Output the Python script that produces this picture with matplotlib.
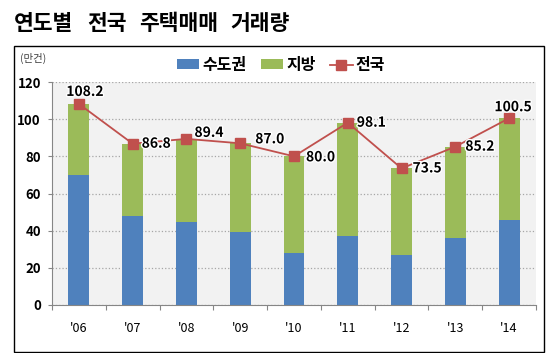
import matplotlib
matplotlib.use('Agg')
import matplotlib.pyplot as plt
from matplotlib.patches import Rectangle, Patch
from matplotlib.lines import Line2D
import matplotlib.patheffects as pe
import numpy as np

plt.rcParams['font.family'] = ['Noto Sans CJK KR', 'DejaVu Sans']

# ── DATA ─────────────────────────────────────────────────────────────────────
years = ["'06", "'07", "'08", "'09", "'10", "'11", "'12", "'13", "'14"]
capital = [69.7, 48.0, 44.8, 39.5, 28.1, 37.0, 27.1, 35.9, 45.8]   # 수도권
total = [108.2, 86.8, 89.4, 87.0, 80.0, 98.1, 73.5, 85.2, 100.5]   # 전국
regional = [round(t - c, 1) for t, c in zip(total, capital)]        # 지방

C_BLUE, C_GREEN, C_RED = '#4F81BD', '#9BBB59', '#C0504D'
C_GRID, C_AXIS = '#A6A6A6', '#868686'

W, H = 552, 353
fig = plt.figure(figsize=(W / 100, H / 100), dpi=100, facecolor='white')

def fx(px):
    return px / W

def fy(py):
    return 1 - py / H

# outer chart box
fig.patches.append(Rectangle((fx(14), fy(352)), fx(544) - fx(14), fy(46) - fy(352),
                             transform=fig.transFigure, fill=False,
                             edgecolor='black', linewidth=1.0, zorder=0))

# title (words centred separately: the original has wide word gaps)
for word, px in [('연도별', 43.5), ('전국', 106.5), ('주택매매', 179), ('거래량', 260)]:
    fig.text(fx(px), fy(23), word, fontsize=15.5, fontweight='bold',
             ha='center', va='center', color='black')
fig.text(fx(20), fy(58), '(만건)', fontsize=7.5, ha='left', va='center', color='#404040')

# plot area
ax = fig.add_axes([fx(52), fy(305), fx(536) - fx(52), fy(82) - fy(305)])
ax.set_facecolor('#F2F2F2')
x = np.arange(len(years))
bw = 0.39
ax.bar(x, capital, bw, color=C_BLUE, zorder=2)
ax.bar(x, regional, bw, bottom=capital, color=C_GREEN, zorder=2)
ax.plot(x, total, color=C_RED, linewidth=1.3, marker='s', markersize=7,
        markerfacecolor=C_RED, markeredgecolor=C_RED, zorder=3)

# data labels (offsets in pixels)
offsets = [(6, 12, 'center'), (9, 0, 'left'), (8, 6, 'left'), (15, 4, 'left'),
           (12, -1, 'left'), (9, 0, 'left'), (11, 0, 'left'), (10, 0, 'left'),
           (4, 11, 'center')]
for xi, v, (dx, dy, ha) in zip(x, total, offsets):
    ax.annotate(f'{v:.1f}', (xi, v), xytext=(dx, dy), textcoords='offset pixels',
                ha=ha, va='center', fontsize=10, fontweight='bold', color='black',
                path_effects=[pe.withStroke(linewidth=2.0, foreground='white')],
                zorder=5, annotation_clip=False)

ax.set_xlim(-0.5, len(years) - 0.5)
ax.set_ylim(0, 120)
ax.set_yticks(range(0, 121, 20))
ax.set_yticklabels([str(v) for v in range(0, 121, 20)], fontsize=9.5, fontweight='bold')
ax.set_xticks(x)
ax.set_xticklabels(years, fontsize=9)
ax.set_xticks(np.arange(-0.5, len(years), 1), minor=True)
ax.tick_params(axis='x', which='major', length=0, pad=12)
ax.tick_params(axis='x', which='minor', length=3.5, color=C_AXIS, width=0.8)
ax.tick_params(axis='y', length=3, color=C_AXIS, width=0.8, pad=5)
ax.yaxis.grid(True, color=C_GRID, linestyle=':', linewidth=0.9, zorder=1)
ax.set_axisbelow(True)
for s in ['top', 'right']:
    ax.spines[s].set_visible(False)
for s in ['left', 'bottom']:
    ax.spines[s].set_color(C_AXIS)
    ax.spines[s].set_linewidth(0.8)

# legend
handles = [Patch(facecolor=C_BLUE, edgecolor='none'),
           Patch(facecolor=C_GREEN, edgecolor='none'),
           Line2D([], [], color=C_RED, linewidth=1.3, marker='s', markersize=7)]
fig.legend(handles, ['수도권', '지방', '전국'], loc='center', ncol=3,
           bbox_to_anchor=(fx(281), fy(65)), frameon=False,
           prop={'size': 11.5, 'weight': 'bold'}, handlelength=1.4, handleheight=0.6,
           handletextpad=0.2, columnspacing=0.9, borderpad=0)

fig.savefig('out.png', dpi=100, facecolor='white')
